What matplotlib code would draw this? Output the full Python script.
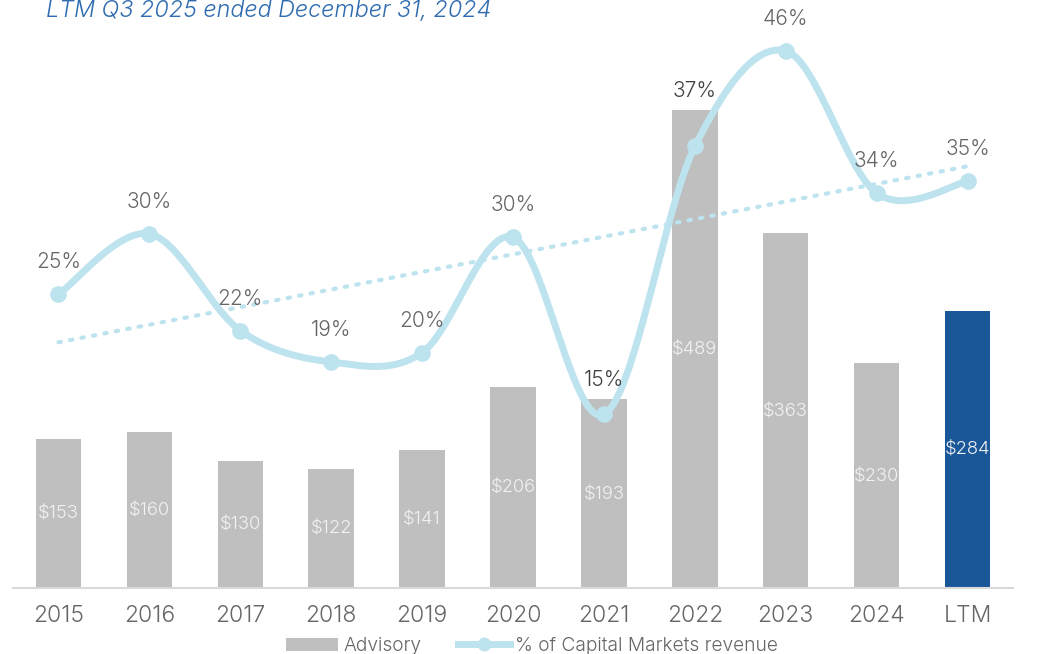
import numpy as np
import matplotlib
matplotlib.use("Agg")
import matplotlib.pyplot as plt
from matplotlib.patches import Patch
from matplotlib.lines import Line2D

# ---- data ----
categories = ["2015", "2016", "2017", "2018", "2019", "2020", "2021", "2022", "2023", "2024", "LTM"]
advisory = [153, 160, 130, 122, 141, 206, 193, 489, 363, 230, 284]
cm_pct = [25.2, 30.4, 22.1, 19.4, 20.2, 30.1, 14.9, 37.9, 46.1, 33.9, 34.9]
pct_labels = ["25%", "30%", "22%", "19%", "20%", "30%", "15%", "37%", "46%", "34%", "35%"]
title = "LTM Q3 2025 ended December 31, 2024"

plt.rcParams['font.family'] = ['Inter', 'DejaVu Sans']
plt.rcParams['font.weight'] = 300

W, H = 1037, 654
fig = plt.figure(figsize=(W / 100, H / 100), dpi=100)
ax = fig.add_axes([13 / W, 1 - 588 / H, 1000 / W, 588 / H])

x = np.arange(len(categories))
bar_colors = ['#bfbfbf'] * (len(categories) - 1) + ['#1a5799']
ax.bar(x, advisory, width=0.5, color=bar_colors, zorder=2)
bar_top = 588 / 0.977
ax.set_ylim(0, bar_top)
ax.set_xlim(-0.5, 10.5)
for i, v in enumerate(advisory):
    ax.text(i, v / 2, f"${v}", ha='center', va='center', color='#f2f2f2',
            fontsize=13.3, weight=300, zorder=3)

for s in ['top', 'right', 'left']:
    ax.spines[s].set_visible(False)
ax.spines['bottom'].set_color('#d9d9d9')
ax.spines['bottom'].set_linewidth(1.5)
ax.set_yticks([])
ax.set_xticks(x)
ax.set_xticklabels(categories, fontsize=16.5, color='#666666', weight=300)
ax.tick_params(axis='x', length=0, pad=12)

ax2 = ax.twinx()
pct_top = 588 / 11.65
ax2.set_ylim(0, pct_top)
ax2.set_yticks([])
for s in ax2.spines.values():
    s.set_visible(False)

# smoothed line (Catmull-Rom bezier, like Excel smoothing)
pts = np.column_stack([x, cm_pct]).astype(float)
ext = np.vstack([pts[0], pts, pts[-1]])
curve = []
t = np.linspace(0, 1, 40)
for i in range(len(pts) - 1):
    p0, p1, p2, p3 = ext[i], ext[i + 1], ext[i + 2], ext[i + 3]
    c1 = p1 + (p2 - p0) / 6
    c2 = p2 - (p3 - p1) / 6
    seg = ((1 - t) ** 3)[:, None] * p1 + (3 * (1 - t) ** 2 * t)[:, None] * c1 \
        + (3 * (1 - t) * t ** 2)[:, None] * c2 + (t ** 3)[:, None] * p2
    curve.append(seg)
curve = np.vstack(curve)
lc = '#bde3ef'
ax2.plot(curve[:, 0], curve[:, 1], color=lc, lw=5, solid_capstyle='round', zorder=4)
ax2.plot(x, cm_pct, 'o', color=lc, ms=11, zorder=5)

# linear trend
k, b = np.polyfit(x, cm_pct, 1)
ax2.plot(x, k * x + b, color=lc, lw=3, ls=(0, (0.6, 2.2)), dash_capstyle='round', zorder=3)

# percentage labels
px_per_pct = 588 / pct_top
for i, (v, lab) in enumerate(zip(cm_pct, pct_labels)):
    y_above_pt = v + 32 / px_per_pct
    y_above_bar = advisory[i] * (588 / bar_top) / px_per_pct + 19 / px_per_pct
    yl = max(y_above_pt, y_above_bar)
    col = '#404040' if v < advisory[i] * (588 / bar_top) / px_per_pct else '#666666'
    ax2.text(i, yl, lab, ha='center', va='center', fontsize=15, color=col,
             weight=300, zorder=6)

fig.text(46 / W, 1 - 17 / H, title, ha='left', va='baseline', fontsize=16.8,
         style='italic', color='#2e6bb0', weight=300)

handles = [Patch(facecolor='#bfbfbf', edgecolor='none'),
           Line2D([0], [0], color=lc, lw=5, marker='o', ms=9)]
fig.legend(handles, ["Advisory", "% of Capital Markets revenue"], loc='center',
           bbox_to_anchor=(532 / W, 1 - 646 / H), ncol=2, frameon=False,
           prop={'size': 13.8, 'weight': 300}, labelcolor='#666666',
           handlelength=2.7, handleheight=0.7, columnspacing=1.9, handletextpad=0.3)

fig.savefig("out.png", dpi=100)
